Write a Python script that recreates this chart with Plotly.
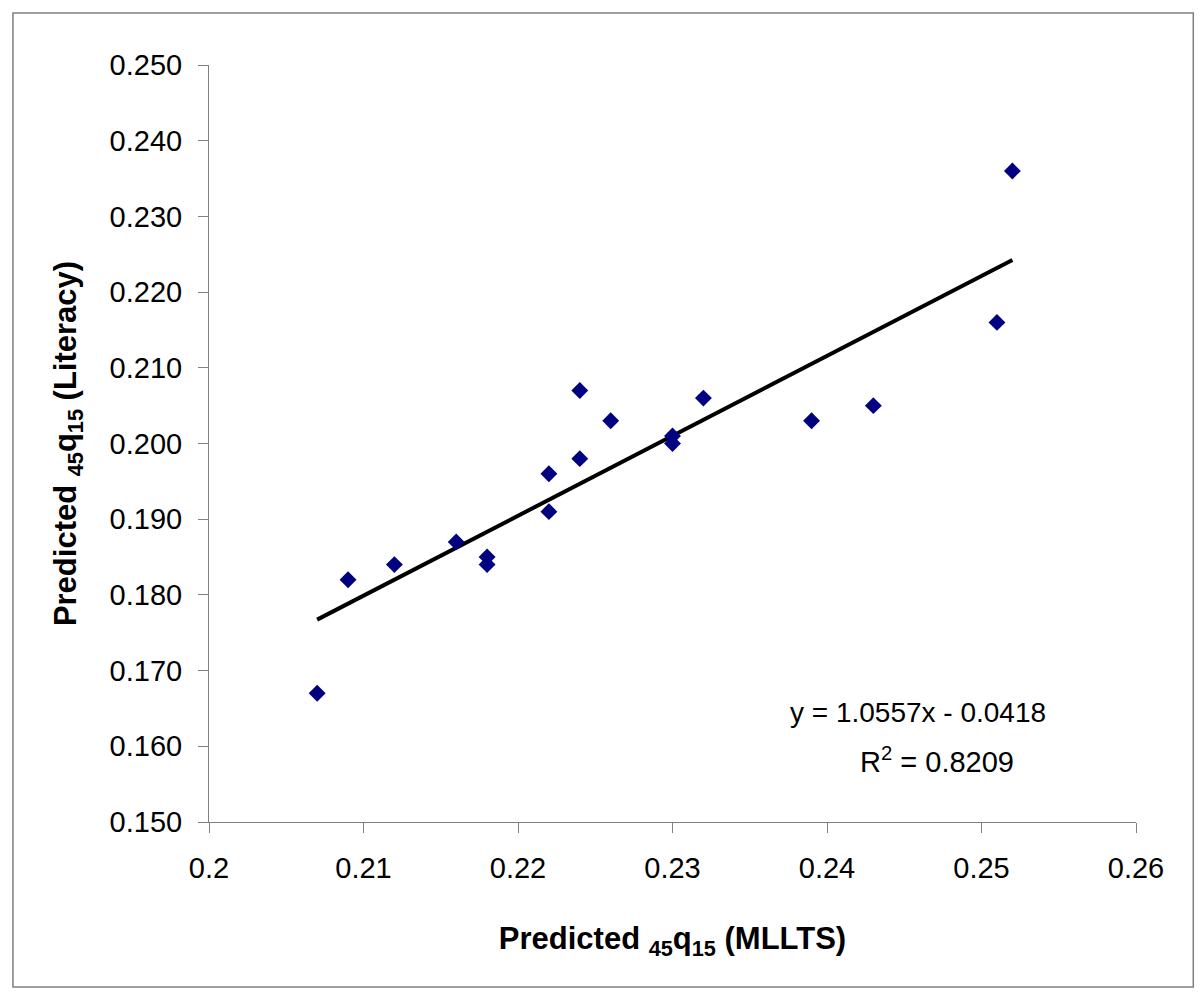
import plotly.graph_objects as go

# Data
mllts = [0.207, 0.209, 0.212, 0.216, 0.218, 0.218, 0.222, 0.222, 0.224,
         0.224, 0.226, 0.230, 0.230, 0.232, 0.239, 0.243, 0.251, 0.252]
literacy = [0.167, 0.182, 0.184, 0.187, 0.185, 0.184, 0.196, 0.191, 0.207,
            0.198, 0.203, 0.201, 0.200, 0.206, 0.203, 0.205, 0.216, 0.236]
slope = 1.0557
intercept = -0.0418
r2 = 0.8209
x_ticks = [0.2, 0.21, 0.22, 0.23, 0.24, 0.25, 0.26]
x_tick_labels = ["0.2", "0.21", "0.22", "0.23", "0.24", "0.25", "0.26"]
y_ticks = [0.150, 0.160, 0.170, 0.180, 0.190, 0.200, 0.210, 0.220, 0.230, 0.240, 0.250]
y_tick_labels = ["%.3f" % v for v in y_ticks]

trend_x = [min(mllts), max(mllts)]
trend_y = [slope * v + intercept for v in trend_x]

FONT = "Liberation Sans, Arial, Helvetica, sans-serif"

fig = go.Figure()
fig.add_trace(go.Scatter(
    x=trend_x, y=trend_y, mode="lines",
    line=dict(color="black", width=4),
    hoverinfo="skip", showlegend=False))
fig.add_trace(go.Scatter(
    x=mllts, y=literacy, mode="markers",
    marker=dict(symbol="diamond", size=13, color="#000080",
                line=dict(width=0)),
    showlegend=False))

axis_common = dict(
    showgrid=False, zeroline=False, showline=True,
    linecolor="#808080", linewidth=1,
    ticks="outside", ticklen=10, tickcolor="#808080", tickwidth=1,
    tickfont=dict(family=FONT, size=29, color="black"),
    ticklabelstandoff=10,
)

fig.update_xaxes(
    range=[0.2, 0.26], tickmode="array", tickvals=x_ticks, ticktext=x_tick_labels,
    title=dict(text="Predicted <sub>45</sub>q<sub>15</sub> (MLLTS)",
               font=dict(family=FONT, size=31, color="black", weight="bold"),
               standoff=44),
    **axis_common)
fig.update_yaxes(
    range=[0.15, 0.25], tickmode="array", tickvals=y_ticks, ticktext=y_tick_labels,
    title=dict(text="Predicted <sub>45</sub>q<sub>15</sub> (Literacy)",
               font=dict(family=FONT, size=31, color="black", weight="bold"),
               standoff=23),
    **axis_common)

fig.add_annotation(
    xref="paper", yref="paper", x=0.765, y=0.144,
    text="y = %.4fx - %.4f" % (slope, abs(intercept)), showarrow=False,
    font=dict(family=FONT, size=28, color="black"), xanchor="center", yanchor="middle")
fig.add_annotation(
    xref="paper", yref="paper", x=0.785, y=0.082,
    text="R<sup>2</sup> = %.4f" % r2, showarrow=False,
    font=dict(family=FONT, size=29, color="black"), xanchor="center", yanchor="middle")

# outer chart border
fig.add_shape(type="rect", xref="paper", yref="paper",
              x0=-0.2115, x1=1.0618, y0=-0.218, y1=1.0687,
              line=dict(color="#7f7f7f", width=1.5), layer="below")

fig.update_layout(
    width=1200, height=992,
    margin=dict(l=209, r=64, t=65, b=170, autoexpand=False),
    paper_bgcolor="white", plot_bgcolor="white",
    font=dict(family=FONT, color="black"),
)

fig.write_html("out.html", config={"displayModeBar": False},
               post_script="document.body.style.margin='0';")
